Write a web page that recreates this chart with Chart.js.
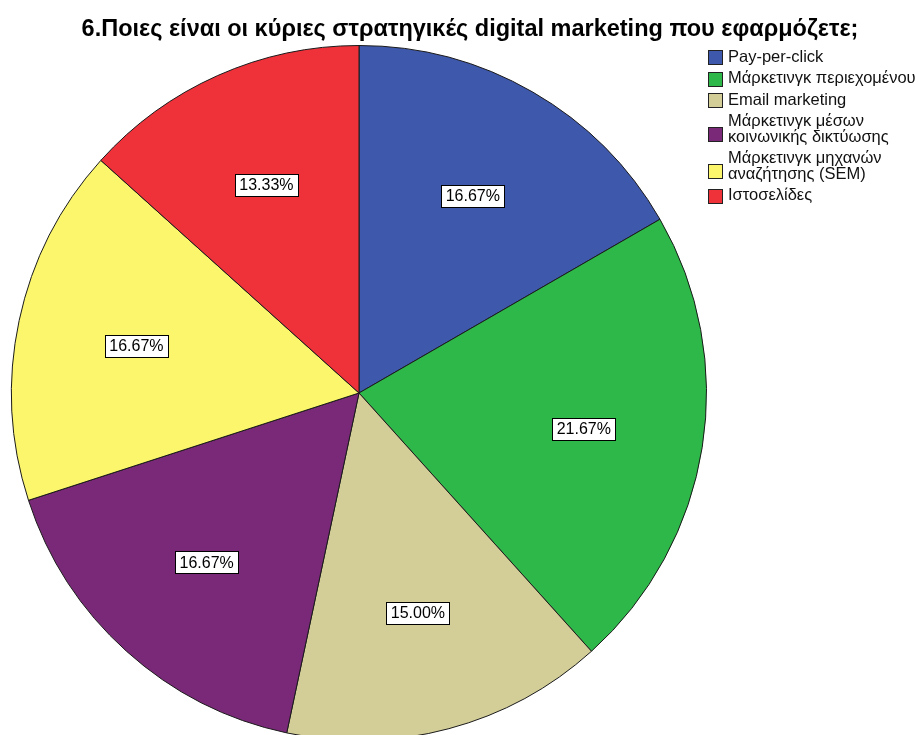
<!DOCTYPE html>
<html lang="el">
<head>
<meta charset="utf-8">
<title>Στρατηγικές digital marketing</title>
<script src="https://cdn.jsdelivr.net/npm/chart.js"></script>
<style>
  html,body{margin:0;padding:0;background:#fff;overflow:hidden}
  #wrap{position:relative;width:918px;height:745px}
</style>
</head>
<body>
<div id="wrap"><canvas id="pie" width="918" height="745"></canvas></div>
<script>
const title = '6.Ποιες είναι οι κύριες στρατηγικές digital marketing που εφαρμόζετε;';
const categories = [
  ['Pay-per-click'],
  ['Μάρκετινγκ περιεχομένου'],
  ['Email marketing'],
  ['Μάρκετινγκ μέσων', 'κοινωνικής δικτύωσης'],
  ['Μάρκετινγκ μηχανών', 'αναζήτησης (SEM)'],
  ['Ιστοσελίδες']
];
const percents = [16.67, 21.67, 15.00, 16.67, 16.67, 13.33];
const colors = ['#3e58ac', '#2fb84a', '#d3ce98', '#7a2878', '#fbf66c', '#ef323a'];

const FONT = 'Arial, "Liberation Sans", sans-serif';

// title, boxed percentage labels and the legend on the right
const decor = {
  id: 'decor',
  afterDraw(chart) {
    const ctx = chart.ctx;
    const arcs = chart.getDatasetMeta(0).data;
    ctx.save();

    ctx.fillStyle = '#000';
    ctx.font = 'bold 23.5px ' + FONT;
    ctx.textAlign = 'center';
    ctx.textBaseline = 'middle';
    ctx.fillText(title, 470, 30);

    ctx.font = '16px ' + FONT;
    arcs.forEach((arc, i) => {
      const mid = (arc.startAngle + arc.endAngle) / 2;
      const r = arc.outerRadius * 0.655;
      const x = arc.x + Math.cos(mid) * r;
      const y = arc.y + Math.sin(mid) * r;
      const txt = percents[i].toFixed(2) + '%';
      const w = Math.round(ctx.measureText(txt).width + 9);
      const h = 22;
      const bx = Math.round(x - w / 2) + 0.5, by = Math.round(y - h / 2) + 0.5;
      ctx.fillStyle = '#fff';
      ctx.fillRect(bx, by, w, h);
      ctx.strokeStyle = '#000';
      ctx.lineWidth = 1;
      ctx.strokeRect(bx, by, w, h);
      ctx.fillStyle = '#000';
      ctx.fillText(txt, x, y + 1);
    });

    // legend
    ctx.textAlign = 'left';
    ctx.font = '16.5px ' + FONT;
    const lineH = 16;
    let y = 57;
    categories.forEach((lines, i) => {
      const boxY = lines.length > 1 ? y + lineH * 0.8 : y;
      ctx.fillStyle = colors[i];
      ctx.fillRect(708.5, Math.round(boxY - 7) + 0.5, 14, 14);
      ctx.strokeStyle = '#222';
      ctx.strokeRect(708.5, Math.round(boxY - 7) + 0.5, 14, 14);
      ctx.fillStyle = '#111';
      lines.forEach((t, k) => ctx.fillText(t, 728, y + k * lineH));
      y += lines.length > 1 ? lineH + 21 : 21.5;
    });
    ctx.restore();
  }
};

new Chart(document.getElementById('pie'), {
  type: 'pie',
  data: {
    labels: categories.map(c => c.join(' ')),
    datasets: [{
      data: percents,
      backgroundColor: colors,
      borderColor: '#1a1a1a',
      borderWidth: 1
    }]
  },
  options: {
    responsive: false,
    animation: false,
    layout: { padding: { left: 11, top: 45, right: 211, bottom: 4 } },
    plugins: { legend: { display: false }, tooltip: { enabled: false } }
  },
  plugins: [decor]
});
</script>
</body>
</html>
